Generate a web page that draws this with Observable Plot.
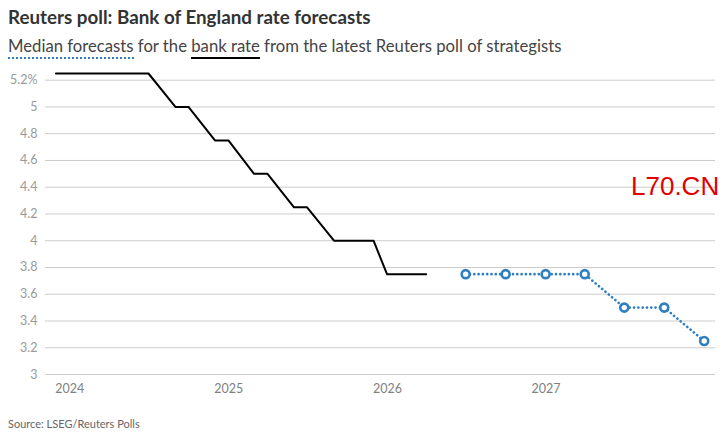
<!DOCTYPE html>
<html>
<head>
<meta charset="utf-8">
<script src="https://cdn.jsdelivr.net/npm/d3@7"></script>
<script src="https://cdn.jsdelivr.net/npm/@observablehq/plot@0.6"></script>
<style>
  html, body { margin: 0; padding: 0; background: #fff; }
  body { width: 728px; height: 437px; position: relative; overflow: hidden; font-family: Lato, "Open Sans", sans-serif; }
  #title { position: absolute; left: 8px; top: 8px; font-size: 18.8px; font-weight: 700; color: #333; line-height: 1; white-space: nowrap; }
  #subtitle { position: absolute; left: 8px; top: 38px; font-size: 16.7px; color: #444; line-height: 1; white-space: nowrap; }
  #subtitle .fc { border-bottom: 2px dotted #2e7fc0; padding-bottom: 1px; }
  #subtitle .br { border-bottom: 2px solid #000; padding-bottom: 1px; }
  #chart { position: absolute; left: 0; top: 60px; }
  #source { position: absolute; left: 8px; top: 418px; font-size: 11px; color: #666; line-height: 1; }
  #wm { position: absolute; left: 631px; top: 173px; font-family: "Liberation Sans", Arial, sans-serif; font-size: 26px; color: #e00000; line-height: 1; }
</style>
</head>
<body>
<div id="title">Reuters poll: Bank of England rate forecasts</div>
<div id="subtitle"><span class="fc">Median forecasts</span> for the <span class="br">bank rate</span> from the latest Reuters poll of strategists</div>
<div id="chart"></div>
<div id="source">Source: LSEG/Reuters Polls</div>
<div id="wm">L70.CN</div>
<script>
// Actual bank rate (black solid line)
const actualDates = ["2023-11-30","2024-06-30","2024-08-31","2024-09-30","2024-11-30","2024-12-31","2025-02-28","2025-03-31","2025-05-31","2025-06-30","2025-08-31","2025-11-30","2025-12-31","2026-03-31"];
const actualRates = [5.25,5.25,5.0,5.0,4.75,4.75,4.5,4.5,4.25,4.25,4.0,4.0,3.75,3.75];

// Median forecasts (blue dotted line with markers), quarter ends
const forecastDates = ["2026-06-30","2026-09-30","2026-12-31","2027-03-31","2027-06-30","2027-09-30","2027-12-31"];
const forecastRates = [3.75,3.75,3.75,3.75,3.5,3.5,3.25];

// Axis ticks
const yTicks = [3,3.2,3.4,3.6,3.8,4,4.2,4.4,4.6,4.8,5,5.2];
const xTickYears = ["2024","2025","2026","2027"];

const actual = actualDates.map((d, i) => ({date: new Date(d), rate: actualRates[i]}));
const forecast = forecastDates.map((d, i) => ({date: new Date(d), rate: forecastRates[i]}));
const xTicks = xTickYears.map(y => new Date(y + "-01-01"));

const blue = "#2e7fc0";

const chart = Plot.plot({
  width: 728,
  height: 344,
  marginLeft: 45,
  marginRight: 13,
  marginTop: 13,
  marginBottom: 30,
  style: {fontFamily: "Lato, 'Open Sans', sans-serif", fontSize: "12.5px", background: "#fff"},
  x: {type: "utc", domain: [new Date("2023-11-06"), new Date("2028-01-26")]},
  y: {domain: [3, 5.25]},
  marks: [
    Plot.gridY(yTicks, {stroke: "#cccccc", strokeOpacity: 1, strokeWidth: 1}),
    Plot.axisY(yTicks, {tickSize: 0, tickPadding: 8, fill: "#999", tickFormat: d => d === 5.2 ? "5.2%" : String(d), label: null}),
    Plot.axisX(xTicks, {tickSize: 0, tickPadding: 10, fill: "#808080", tickFormat: d => String(d.getUTCFullYear()), label: null}),
    Plot.line(actual, {x: "date", y: "rate", stroke: "#000", strokeWidth: 2}),
    Plot.line(forecast, {x: "date", y: "rate", stroke: blue, strokeWidth: 2.6, strokeDasharray: "0.1 4.2", strokeLinecap: "round"}),
    Plot.dot(forecast, {x: "date", y: "rate", r: 4, fill: "#fff", stroke: blue, strokeWidth: 2.6})
  ]
});
document.getElementById("chart").appendChild(chart);
</script>
</body>
</html>
